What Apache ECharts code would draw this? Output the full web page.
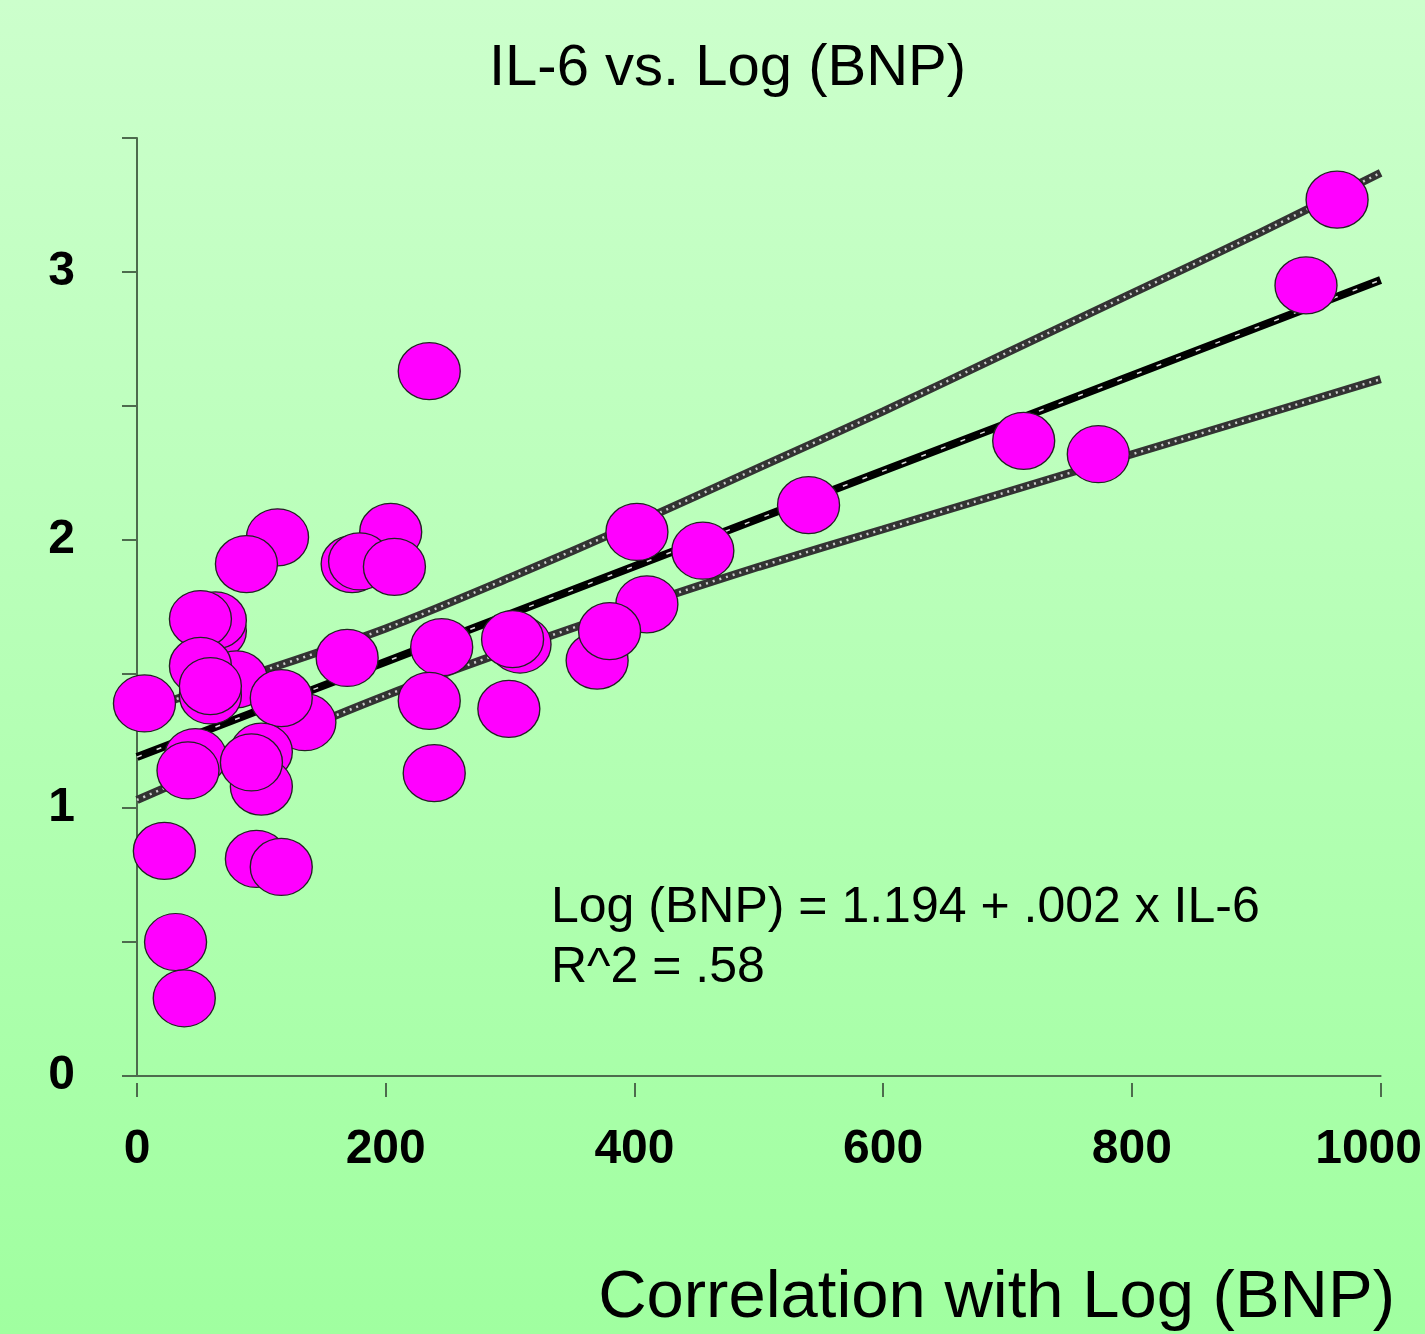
<!DOCTYPE html>
<html>
<head>
<meta charset="utf-8">
<script src="https://cdn.jsdelivr.net/npm/echarts@6/dist/echarts.min.js"></script>
<style>
  html, body { margin: 0; padding: 0; }
  #chart { width: 1425px; height: 1334px; }
</style>
</head>
<body>
<div id="chart"></div>
<script>
// IL-6 (x) und Log(BNP) (y) der einzelnen Patienten
const il6 = [965, 940, 713, 773, 540, 455, 402, 410, 370, 380, 308, 302, 299, 245, 235, 239, 235, 169, 204, 173, 179, 207, 113, 88, 63, 63, 51, 80, 51, 59, 59, 135, 116, 6, 47, 41, 100, 100, 92, 22, 96, 116, 31, 38]
const logBnp = [3.27, 2.95, 2.37, 2.32, 2.13, 1.96, 2.03, 1.76, 1.55, 1.66, 1.61, 1.63, 1.37, 1.60, 1.40, 1.13, 2.63, 1.56, 2.03, 1.91, 1.92, 1.90, 2.01, 1.91, 1.66, 1.70, 1.705, 1.48, 1.53, 1.42, 1.455, 1.32, 1.41, 1.39, 1.19, 1.14, 1.21, 1.08, 1.17, 0.84, 0.81, 0.78, 0.50, 0.29]

// Regressionsgerade + Konfidenzband
const fitX = [0, 100, 200, 300, 400, 500, 600, 700, 800, 900, 1000]
const fitMain = [1.19, 1.368, 1.546, 1.724, 1.902, 2.08, 2.258, 2.436, 2.614, 2.792, 2.97]
const fitUpper = [1.36, 1.51, 1.67, 1.86, 2.06, 2.27, 2.48, 2.70, 2.92, 3.14, 3.37]
const fitLower = [1.03, 1.23, 1.42, 1.59, 1.75, 1.90, 2.04, 2.18, 2.32, 2.46, 2.60]

const xTicks = [0, 200, 400, 600, 800, 1000]
const yTicks = [0, 1, 2, 3]

const font = 'Liberation Sans, Arial, sans-serif'
const axisColor = '#4d6b4d'

const pairs = (xs, ys) => xs.map((x, i) => [x, ys[i]])

// schraffierte Linie: dunkle Grundlinie + helle Strichelung darüber
const bandLine = (name, ys) => ([
  {
    name, type: 'line', data: pairs(fitX, ys), symbol: 'none', silent: true, z: 2, smooth: 0.3,
    lineStyle: { color: '#333', width: 8 }
  },
  {
    name: name + '-hatch', type: 'line', data: pairs(fitX, ys), symbol: 'none', silent: true, z: 3, smooth: 0.3,
    lineStyle: { color: 'rgba(230,230,230,0.85)', width: 2.5, type: [2, 5] }
  }
])

const myChart = echarts.init(document.querySelector('#chart'))
const option = {
  animation: false,
  backgroundColor: {
    type: 'linear', x: 0, y: 0, x2: 0, y2: 1,
    colorStops: [{ offset: 0, color: '#ccffcc' }, { offset: 1, color: '#a0ffa0' }]
  },
  title: {
    text: 'IL-6 vs. Log (BNP)',
    left: 489,
    top: 40,
    padding: 0,
    textStyle: { fontFamily: font, fontSize: 58, fontWeight: 'normal', color: '#000' }
  },
  grid: { left: 137, right: 42, top: 138, bottom: 258 },
  xAxis: [
    {
      // nur die Achsenlinie
      type: 'value', position: 'bottom', min: 0, max: 1000, interval: 200, offset: 2,
      axisLine: { show: true, lineStyle: { color: axisColor, width: 2 } },
      axisTick: { show: false },
      axisLabel: { show: false },
      splitLine: { show: false }
    },
    {
      // abgesetzte Ticks + Beschriftung
      type: 'value', position: 'bottom', min: 0, max: 1000, interval: 200, offset: 7,
      axisLine: { show: false },
      axisTick: { show: true, length: 14, lineStyle: { color: axisColor, width: 2 } },
      axisLabel: {
        margin: 43,
        fontFamily: font, fontSize: 48, fontWeight: 'bold', color: '#000',
        formatter: v => xTicks.includes(v) ? (v === 1000 ? '{m|1000}' : String(v)) : '',
        rich: { m: { fontFamily: font, fontSize: 48, fontWeight: 'bold', color: '#000', padding: [0, 24, 0, 0] } }
      },
      splitLine: { show: false }
    }
  ],
  yAxis: {
    type: 'value', min: 0, max: 3.5, interval: 0.5,
    axisLine: { show: true, lineStyle: { color: axisColor, width: 2 } },
    axisTick: { show: true, length: 15, lineStyle: { color: axisColor, width: 2 } },
    axisLabel: {
      margin: 62,
      fontFamily: font, fontSize: 48, fontWeight: 'bold', color: '#000',
      formatter: v => yTicks.includes(v) ? String(v) : ''
    },
    splitLine: { show: false }
  },
  series: [
    ...bandLine('upper', fitUpper),
    ...bandLine('lower', fitLower),
    {
      name: 'fit', type: 'line', data: pairs(fitX, fitMain), symbol: 'none', silent: true, z: 2,
      lineStyle: { color: '#000', width: 8 }
    },
    {
      name: 'fit-dash', type: 'line', data: pairs(fitX, fitMain), symbol: 'none', silent: true, z: 3,
      lineStyle: { color: 'rgba(255,255,255,0.85)', width: 1.5, type: [5, 16] }
    },
    {
      name: 'patients', type: 'scatter', z: 5,
      data: pairs(il6, logBnp),
      symbol: 'circle',
      symbolSize: [62, 57],
      itemStyle: { color: '#ff00ff', borderColor: '#222', borderWidth: 1.3, opacity: 1 }
    }
  ],
  graphic: [
    {
      type: 'text', left: 551, top: 883,
      style: { text: 'Log (BNP) = 1.194 + .002 x IL-6', font: '50px ' + font, fill: '#000' }
    },
    {
      type: 'text', left: 551, top: 943,
      style: { text: 'R^2 = .58', font: '50px ' + font, fill: '#000' }
    },
    {
      type: 'text', right: 30, top: 1265,
      style: { text: 'Correlation with Log (BNP)', font: '67px ' + font, fill: '#000' }
    }
  ]
}
myChart.setOption(option)
</script>
</body>
</html>
